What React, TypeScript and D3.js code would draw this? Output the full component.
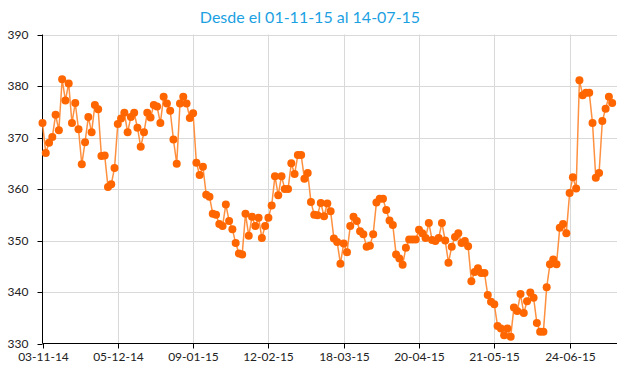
import React, { useEffect } from "react";
import * as d3 from "d3";

// valores (una observacion por rueda)
const values: number[] = [
  372.8, 367.0, 369.0, 370.1, 374.4, 371.4, 381.3, 377.2, 380.5, 372.8,
  376.7, 371.6, 364.8, 369.1, 374.0, 371.0, 376.3, 375.5, 366.4, 366.5,
  360.4, 360.9, 364.1, 372.6, 373.7, 374.8, 371.0, 374.0, 374.8, 371.9,
  368.2, 371.0, 374.8, 373.9, 376.3, 376.0, 372.8,
  377.9, 376.6, 375.2, 369.6, 364.9, 376.6, 377.9, 376.6, 373.8, 374.7,
  365.1, 362.7, 364.3, 358.9, 358.5, 355.2, 355.0, 353.2, 352.8, 357.0,
  353.8, 352.2, 349.5, 347.5, 347.3, 355.2, 350.9, 354.6, 352.8, 354.4,
  350.5, 352.8, 354.4, 356.8, 362.5, 358.8, 362.5, 360.0, 360.0, 365.0,
  362.9, 366.6, 366.6, 362.0, 363.1, 357.5, 355.0, 354.9, 357.3, 354.7,
  357.2, 355.7, 350.4, 349.7, 345.5, 349.4, 347.7, 352.8, 354.6, 353.8,
  351.8, 351.2, 348.8, 349.0, 351.2, 357.4, 358.1, 358.1, 355.9, 353.9,
  353.0, 347.3, 346.5, 345.3, 348.6, 350.2, 350.2, 350.2, 352.1, 351.4,
  350.5, 353.4, 350.1, 349.9, 350.5, 353.4, 350.0, 345.7, 348.8, 350.7,
  351.4, 349.5, 349.9, 348.9, 342.1, 343.9, 344.6, 343.7, 343.7, 339.4,
  338.1, 337.6, 333.4, 332.9, 331.6, 332.9, 331.3, 337.0, 336.3, 339.6,
  335.9, 338.2, 339.9, 338.9, 334.0, 332.3, 332.3, 340.9, 345.4, 346.3,
  345.4, 352.5, 353.2, 351.4, 359.2, 362.3, 360.1, 381.1, 378.2, 378.7,
  378.7, 372.8, 362.2, 363.1, 373.2, 375.6, 377.9, 376.7,
];

const tickLabels = [
  "03-11-14", "05-12-14", "09-01-15", "12-02-15",
  "18-03-15", "20-04-15", "21-05-15", "24-06-15",
];
const tickEvery = 23;
const yTicks = [330, 340, 350, 360, 370, 380, 390];

const title = "Desde el 01-11-15 al 14-07-15";

const W = 620;
const H = 375;
const left = 42.5;
const right = 617;
const top = 34.5;
const bottom = 343.5;

export default function App() {
  useEffect(() => {
    document.body.style.margin = "0";
  }, []);

  const x = d3.scaleLinear().domain([0, tickEvery]).range([left, left + 75.3]);
  const y = d3.scaleLinear().domain([330, 390]).range([bottom, top]);

  const line = d3
    .line<number>()
    .x((_, i) => x(i))
    .y((d) => y(d));

  const font = "Lato, 'Open Sans', sans-serif";

  return (
    <svg width={W} height={H} style={{ display: "block", background: "#fff" }}>
      <text
        x={W / 2}
        y={23}
        textAnchor="middle"
        fontFamily={font}
        fontSize={16}
        fill="#1BA1E2"
      >
        {title}
      </text>

      {/* rejilla */}
      {yTicks.slice(1).map((t) => (
        <line
          key={"gy" + t}
          x1={left}
          x2={right}
          y1={Math.round(y(t)) + 0.5}
          y2={Math.round(y(t)) + 0.5}
          stroke="#d9d9d9"
        />
      ))}
      {tickLabels.slice(1).map((_, k) => {
        const px = Math.round(x((k + 1) * tickEvery)) + 0.5;
        return (
          <line key={"gx" + k} x1={px} x2={px} y1={top} y2={bottom} stroke="#d9d9d9" />
        );
      })}

      {/* ejes */}
      <line x1={left} x2={left} y1={top} y2={bottom} stroke="#000" />
      <line x1={left} x2={right} y1={bottom} y2={bottom} stroke="#000" />
      {yTicks.map((t) => (
        <g key={"ty" + t}>
          <line
            x1={left - 5}
            x2={left}
            y1={Math.round(y(t)) + 0.5}
            y2={Math.round(y(t)) + 0.5}
            stroke="#000"
          />
          <text
            x={left - 14}
            y={y(t) + 4}
            textAnchor="end"
            fontFamily={font}
            fontSize={12}
            fill="#222"
          >
            {t}
          </text>
        </g>
      ))}
      {tickLabels.map((lab, k) => {
        const px = Math.round(x(k * tickEvery)) + 0.5;
        return (
          <g key={"tx" + k}>
            <line x1={px} x2={px} y1={bottom} y2={bottom + 5} stroke="#000" />
            <text
              x={px}
              y={bottom + 17}
              textAnchor="middle"
              fontFamily={font}
              fontSize={12}
              fill="#222"
            >
              {lab}
            </text>
          </g>
        );
      })}

      {/* serie */}
      <path d={line(values) ?? ""} fill="none" stroke="#FF9040" strokeWidth={1.5} />
      {values.map((v, i) => (
        <circle key={i} cx={x(i)} cy={y(v)} r={4} fill="#FF6600" />
      ))}
    </svg>
  );
}
